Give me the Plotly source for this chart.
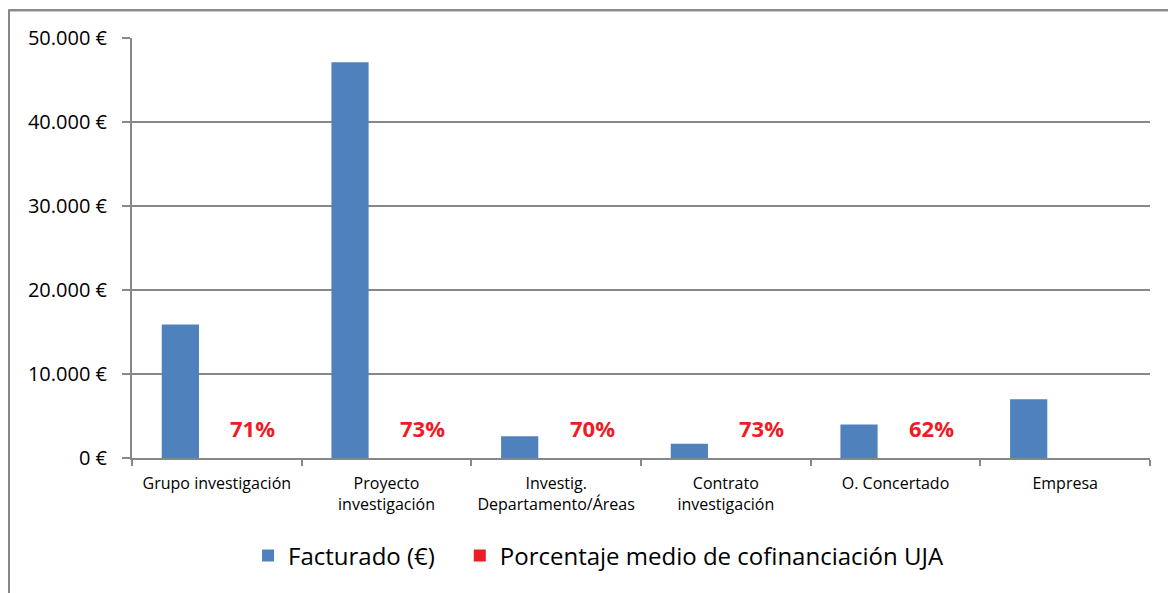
import plotly.graph_objects as go

# ─── Datos ───────────────────────────────────────────
categorias = [
    "Grupo investigación",
    "Proyecto<br>investigación",
    "Investig.<br>Departamento/Áreas",
    "Contrato<br>investigación",
    "O. Concertado",
    "Empresa",
]
facturado = [15900, 47100, 2600, 1700, 4000, 7000]
porcentaje = [0.71, 0.73, 0.70, 0.73, 0.62, None]

y_ticks = [0, 10000, 20000, 30000, 40000, 50000]
y_ticktext = ["0 €", "10.000 €", "20.000 €", "30.000 €", "40.000 €", "50.000 €"]

AZUL = "#4F81BD"
ROJO = "#EE1C25"
ROJO_BARRA = "rgba(238,28,37,0.999)"  # evita que plotly ensanche la barra casi nula
GRIS = "#878787"
FUENTE = "Open Sans, sans-serif"

fig = go.Figure()
fig.add_trace(go.Bar(
    x=categorias, y=facturado, name="Facturado (€)",
    marker=dict(color=AZUL, line_width=0), legend="legend",
))
fig.add_trace(go.Bar(
    x=categorias, y=porcentaje, name="Porcentaje medio de cofinanciación UJA",
    marker=dict(color=ROJO_BARRA, line_width=0), legend="legend2",
))

# etiquetas de porcentaje sobre la serie roja
for cat, p in zip(categorias, porcentaje):
    if p is None:
        continue
    fig.add_annotation(
        x=cat, y=p, xref="x", yref="y",
        text=f"{p:.0%}", showarrow=False,
        xshift=36, yshift=13, yanchor="bottom",
        font=dict(family=FUENTE, size=22, color=ROJO, weight="bold"),
    )

# marco exterior del gráfico
MARCO_TOP = 1.066
fig.add_shape(
    type="rect", xref="paper", yref="paper",
    x0=-0.1208, x1=1.06, y0=-0.45, y1=MARCO_TOP,
    line=dict(color=GRIS, width=2), fillcolor="rgba(0,0,0,0)", layer="above",
)
fig.add_shape(
    type="line", xref="paper", yref="paper",
    x0=-0.1208, x1=1.06, y0=MARCO_TOP, y1=MARCO_TOP,
    line=dict(color=GRIS, width=2), layer="above",
)

leyenda = dict(
    orientation="h", xanchor="left", y=-0.233, yanchor="middle",
    font=dict(size=24), itemwidth=30, bgcolor="rgba(0,0,0,0)",
)

fig.update_layout(
    width=1176, height=593,
    margin=dict(l=124, r=34, t=30, b=143),
    paper_bgcolor="white", plot_bgcolor="white",
    barmode="group", bargap=0.14, bargroupgap=0.49,
    font=dict(family=FUENTE, color="#000000"),
    legend=dict(leyenda, x=0.114),
    legend2=dict(leyenda, x=0.322),
    showlegend=True,
)
fig.update_xaxes(
    type="category", tickson="boundaries",
    showline=True, linecolor=GRIS, linewidth=2,
    ticks="outside", ticklen=6, tickcolor=GRIS, tickwidth=2,
    tickfont=dict(size=16), showgrid=False, ticklabelstandoff=10,
)
fig.update_yaxes(
    range=[0, 50000], tickvals=y_ticks, ticktext=y_ticktext,
    showline=True, linecolor=GRIS, linewidth=2,
    showgrid=True, gridcolor=GRIS, gridwidth=1.5,
    ticks="outside", ticklen=8, tickcolor=GRIS, tickwidth=2,
    tickfont=dict(size=20), zeroline=False, ticklabelstandoff=11,
)

fig.write_html("out.html")
